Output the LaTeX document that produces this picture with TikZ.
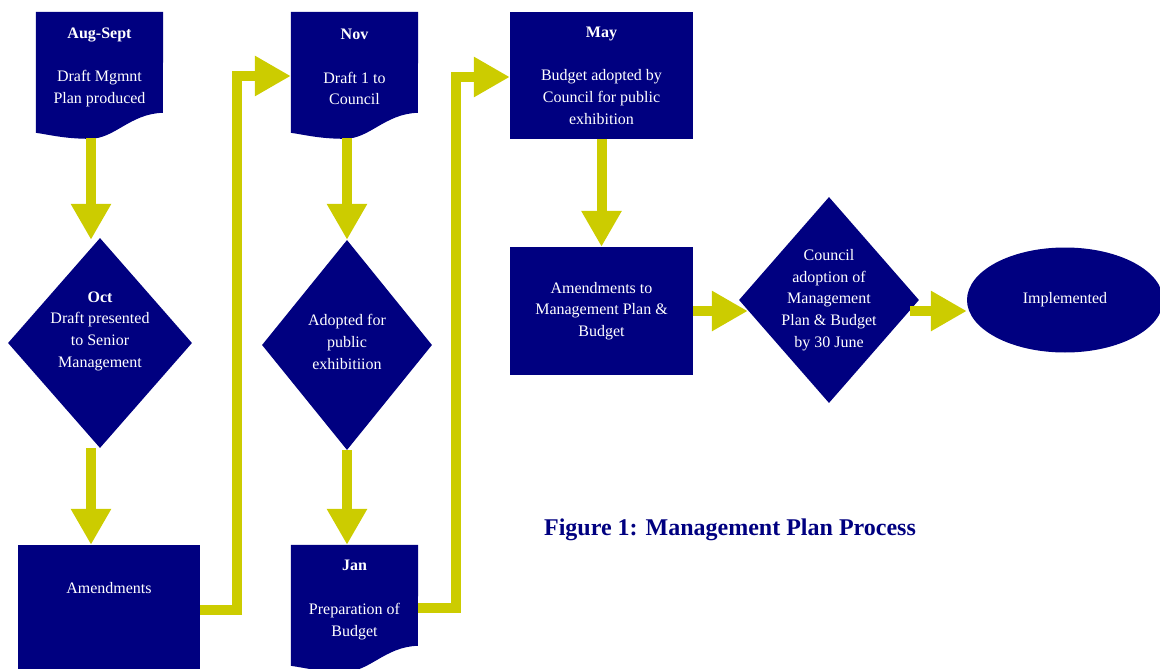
\documentclass[tikz,border=0pt]{standalone}
\usepackage{fontspec}
\setmainfont{Liberation Serif}
\usetikzlibrary{shapes.geometric,arrows.meta,calc}
\definecolor{navyc}{RGB}{0,0,128}
\definecolor{olivec}{RGB}{204,204,0}
\pgfdeclarelayer{bg}
\pgfsetlayers{bg,main}
\newcommand\docshape[1]{%
  \fill[navyc] (#1.north west) -- (#1.north east) -- ($(#1.north west)+(127,101)$)
    .. controls ($(#1.north west)+(94,102)$) and ($(#1.north west)+(79,127)$) .. ($(#1.north west)+(54,127)$)
    .. controls ($(#1.north west)+(29,127)$) and ($(#1.north west)+(14,123)$) .. ($(#1.north west)+(0,121)$) -- cycle;}
\begin{document}
\begin{tikzpicture}[x=1pt,y=-1pt,
  base/.style={text=white, align=center, font=\fontsize{16}{21.7}\selectfont, inner sep=0pt},
  boxn/.style={base, rectangle, fill=navyc},
  docn/.style={rectangle, inner sep=0pt, minimum width=127pt, minimum height=126pt},
  dian/.style={diamond, fill=navyc, inner sep=0pt},
  txt/.style={base},
  arr/.style={draw=olivec, line width=10pt, -{Triangle[length=36pt,width=38pt]}, line join=miter},
  captn/.style={text=navyc, font=\fontsize{24}{28}\selectfont\bfseries, inner sep=0pt}
]
\useasboundingbox (0,0) rectangle (1160,669);
\clip (0,0) rectangle (1160,669);

% nodes
\node[docn] (d1) at (99.5,75) {};
\node[txt] (d1t) at ($(d1)+(0,-8)$) {\textbf{Aug-Sept}\\[21.7pt]Draft Mgmnt\\Plan produced};
\node[dian, minimum width=184pt, minimum height=210pt] (c1) at (100,343) {};
\node[txt] (c1t) at ($(c1)+(0,-12)$) {\textbf{Oct}\\Draft presented\\to Senior\\Management};
\node[boxn, minimum width=182pt, minimum height=130pt] (a1) at (109,610) {};
\node[txt] (a1t) at (109,588) {Amendments};

\node[docn] (d2) at (354.5,75) {};
\node[txt] (d2t) at ($(d2)+(0,-8)$) {\textbf{Nov}\\[21.7pt]Draft 1 to\\Council};
\node[dian, minimum width=170pt, minimum height=210pt] (c2) at (347,345) {};
\node[txt] (c2t) at ($(c2)+(0,-3)$) {Adopted for\\public\\exhibitiion};
\node[docn] (d3) at (354.5,608) {};
\node[txt] (d3t) at ($(d3)+(0,-8)$) {\textbf{Jan}\\[21.7pt]Preparation of\\Budget};

\node[boxn, minimum width=183pt, minimum height=127pt] (m) at (601.5,75.5)
  {\textbf{May}\\[21.7pt]Budget adopted by\\Council for public\\exhibition};
\node[boxn, minimum width=183pt, minimum height=128pt] (a2) at (601.5,311)
  {Amendments to\\Management Plan \&\\Budget};
\node[dian, minimum width=180pt, minimum height=206pt] (c3) at (829,300) {};
\node[txt] (c3t) at (c3) {Council\\adoption of\\Management\\Plan \& Budget\\by 30 June};
\node[base, ellipse, fill=navyc, minimum width=196pt, minimum height=105pt] (e) at (1065,300) {Implemented};

\node[captn] (cap) at (730,530) {Figure 1: Management Plan Process};

\begin{pgfonlayer}{bg}
\docshape{d1}
\docshape{d2}
\docshape{d3}
\end{pgfonlayer}

% connectors
\coordinate (col1) at (91,0);
\coordinate (r1) at (237,76);
\coordinate (r2) at (456,77);
\draw[arr] (d1.south -| col1) -- ($(c1.north -| col1)+(0,2)$);
\draw[arr] (c1.south -| col1) -- (a1.north -| col1);
\draw[arr] (a1.east) -| (r1) -- (r1 -| d2.west);
\draw[arr] (d2.south -| c2.north) -- (c2.north);
\draw[arr] (c2.south) -- (d3.north -| c2.south);
\draw[arr] (d3.east) -| (r2) -- (r2 -| m.west);
\draw[arr] (m.south) -- (a2.north);
\draw[arr] (a2.east) -- ($(c3.west |- a2.east)+(9,0)$);
\draw[arr] ($(c3.east |- a2.east)+(-9,0)$) -- (e.west |- a2.east);
\end{tikzpicture}
\end{document}
